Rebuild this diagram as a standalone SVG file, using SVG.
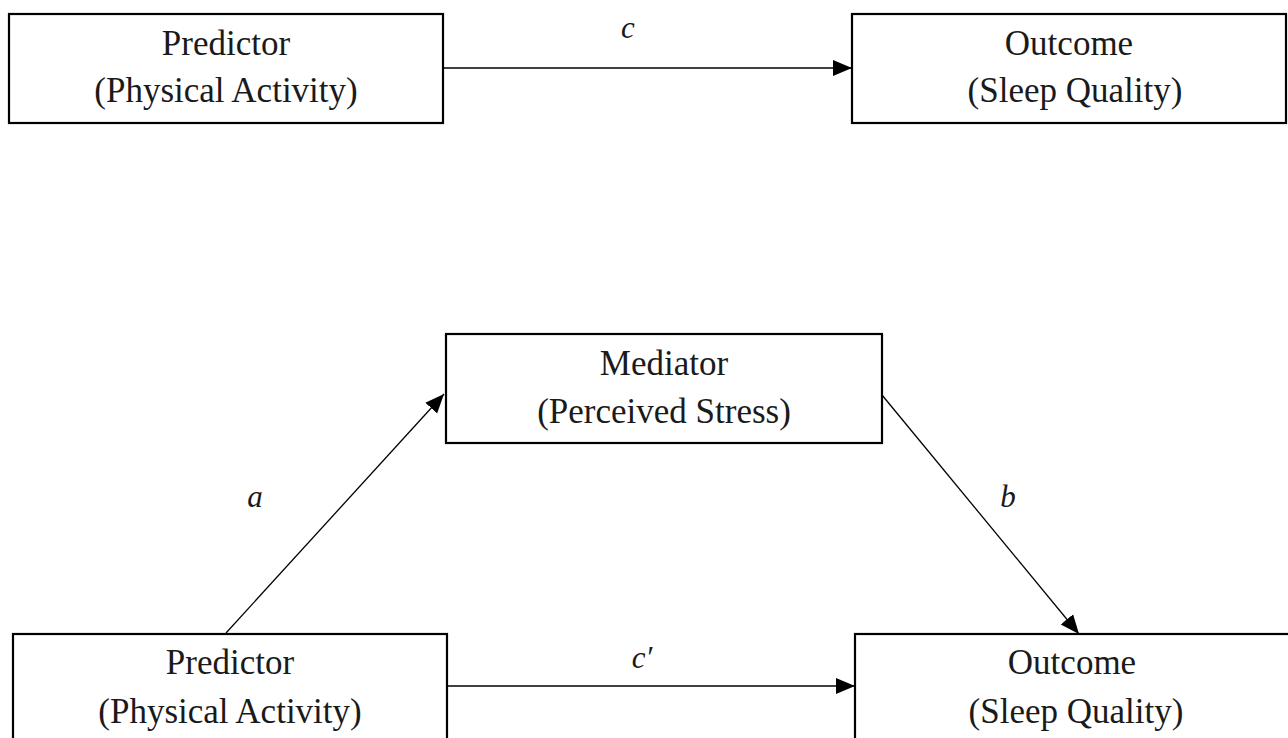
<svg xmlns="http://www.w3.org/2000/svg" width="1288" height="738" viewBox="0 0 1288 738">
<style>
.box{fill:#fff;stroke:#000;stroke-width:2.2}
.t{font-family:"Liberation Serif","Times New Roman",serif;font-size:35px;fill:#1a1a1a;text-anchor:middle}
.lbl{font-family:"Liberation Serif","Times New Roman",serif;font-size:31px;font-style:italic;fill:#1a1a1a;text-anchor:middle}
.con{stroke:#000;stroke-width:1.3;fill:none;marker-end:url(#ah)}
</style>
<defs>
<marker id="ah" markerUnits="userSpaceOnUse" markerWidth="20" markerHeight="18" refX="19" refY="9" orient="auto">
<path d="M0,1 L19,9 L0,17 Z" fill="#000"/>
</marker>
</defs>
<rect width="1288" height="738" fill="#fff"/>
<g id="connectors">
<line class="con" x1="443" y1="68" x2="852" y2="68"/>
<line class="con" x1="226" y1="633" x2="444" y2="394"/>
<line class="con" x1="882" y1="395" x2="1079" y2="634"/>
<line class="con" x1="447" y1="686" x2="855" y2="686"/>
<text class="lbl" x="628" y="38">c</text>
<text class="lbl" x="255" y="507">a</text>
<text class="lbl" x="1008" y="507">b</text>
<text class="lbl" x="642" y="668">c′</text>
</g>
<g id="predictor-top">
<rect class="box" x="9" y="14" width="434" height="109"/>
<text class="t" x="226" y="55">Predictor</text>
<text class="t" x="226" y="102">(Physical Activity)</text>
</g>
<g id="outcome-top">
<rect class="box" x="852" y="14" width="434" height="109"/>
<text class="t" x="1069" y="55">Outcome</text>
<text class="t" x="1075" y="102">(Sleep Quality)</text>
</g>
<g id="mediator">
<rect class="box" x="446" y="334" width="436" height="109"/>
<text class="t" x="664" y="375">Mediator</text>
<text class="t" x="664" y="423">(Perceived Stress)</text>
</g>
<g id="predictor-bottom">
<rect class="box" x="13" y="634" width="434" height="130"/>
<text class="t" x="230" y="674">Predictor</text>
<text class="t" x="230" y="723">(Physical Activity)</text>
</g>
<g id="outcome-bottom">
<rect class="box" x="855" y="634" width="450" height="130"/>
<text class="t" x="1072" y="674">Outcome</text>
<text class="t" x="1076" y="723">(Sleep Quality)</text>
</g>
</svg>
